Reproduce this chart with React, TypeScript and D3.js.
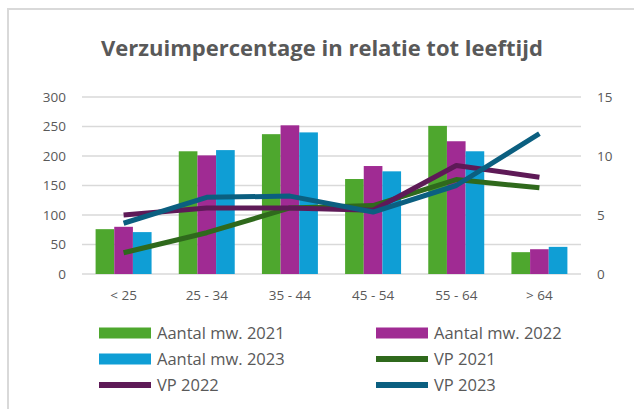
import React, { useEffect, useRef } from 'react';
import * as d3 from 'd3';

const categories = ['< 25', '25 - 34', '35 - 44', '45 - 54', '55 - 64', '> 64'];
const aantal2021 = [76, 208, 237, 161, 251, 37];
const aantal2022 = [80, 201, 252, 183, 225, 42];
const aantal2023 = [71, 210, 240, 174, 208, 46];
const vp2021 = [1.8, 3.5, 5.6, 5.8, 8.0, 7.3];
const vp2022 = [5.0, 5.6, 5.6, 5.4, 9.2, 8.2];
const vp2023 = [4.3, 6.5, 6.6, 5.25, 7.5, 11.9];
const leftTicks = [0, 50, 100, 150, 200, 250, 300];
const rightTicks = [0, 5, 10, 15];

const FONT = "'Open Sans', sans-serif";
const TEXT = '#595959';

const App = () => {
  const svgRef = useRef<SVGSVGElement>(null);

  useEffect(() => {
    const svg = d3.select(svgRef.current);
    svg.selectAll('*').remove();
    const width = 634;
    const height = 409;
    const left = 82;
    const right = 581;
    const top = 97;
    const bottom = 274;

    // chart frame
    svg.append('rect')
      .attr('x', 8).attr('y', 9)
      .attr('width', width).attr('height', height)
      .attr('fill', '#fff')
      .attr('stroke', '#d9d9d9')
      .attr('stroke-width', 2);

    svg.append('text')
      .attr('x', 322).attr('y', 56)
      .attr('text-anchor', 'middle')
      .style('font-family', FONT)
      .style('font-weight', 'bold')
      .style('font-size', '22px')
      .style('fill', TEXT)
      .text('Verzuimpercentage in relatie tot leeftijd');

    const x = d3.scaleBand().domain(categories).range([left, right])
      .paddingInner(0.327).paddingOuter(0.1635);
    const yL = d3.scaleLinear().domain([0, 300]).range([bottom, top]);
    const yR = d3.scaleLinear().domain([0, 15]).range([bottom, top]);

    // gridlines
    svg.selectAll('.grid').data(leftTicks).join('line')
      .attr('x1', left).attr('x2', right)
      .attr('y1', (d) => yL(d)).attr('y2', (d) => yL(d))
      .attr('stroke', '#d9d9d9')
      .attr('stroke-width', 1.5);

    svg.selectAll('.ltick').data(leftTicks).join('text')
      .attr('x', 66).attr('y', (d) => yL(d))
      .attr('dy', '0.35em')
      .attr('text-anchor', 'end')
      .style('font-family', FONT).style('font-size', '13.5px').style('fill', TEXT)
      .text((d) => d);

    svg.selectAll('.rtick').data(rightTicks).join('text')
      .attr('x', 597).attr('y', (d) => yR(d))
      .attr('dy', '0.35em')
      .style('font-family', FONT).style('font-size', '13.5px').style('fill', TEXT)
      .text((d) => d);

    svg.selectAll('.xlabel').data(categories).join('text')
      .attr('x', (d) => x(d)! + x.bandwidth() / 2).attr('y', 295)
      .attr('dy', '0.35em')
      .attr('text-anchor', 'middle')
      .style('font-family', FONT).style('font-size', '13.5px').style('fill', TEXT)
      .text((d) => d);

    // bars
    const barSeries = [
      { name: 'Aantal mw. 2021', values: aantal2021, color: '#4ea72e' },
      { name: 'Aantal mw. 2022', values: aantal2022, color: '#a02b93' },
      { name: 'Aantal mw. 2023', values: aantal2023, color: '#0f9ed5' },
    ];
    const xs = d3.scaleBand().domain(barSeries.map((s) => s.name)).range([0, x.bandwidth()]);
    barSeries.forEach((s) => {
      svg.append('g').selectAll('rect').data(s.values).join('rect')
        .attr('x', (_, i) => x(categories[i])! + xs(s.name)!)
        .attr('y', (d) => yL(d))
        .attr('width', xs.bandwidth())
        .attr('height', (d) => bottom - yL(d))
        .attr('fill', s.color);
    });

    // lines
    const lineSeries = [
      { name: 'VP 2021', values: vp2021, color: '#2f691c' },
      { name: 'VP 2022', values: vp2022, color: '#5e1a57' },
      { name: 'VP 2023', values: vp2023, color: '#0b5f80' },
    ];
    const line = d3.line<number>()
      .x((_, i) => x(categories[i])! + x.bandwidth() / 2)
      .y((d) => yR(d));
    lineSeries.forEach((s) => {
      svg.append('path')
        .attr('d', line(s.values))
        .attr('fill', 'none')
        .attr('stroke', s.color)
        .attr('stroke-width', 5)
        .attr('stroke-linejoin', 'round');
    });

    // legend
    const legend = [
      { ...barSeries[0], type: 'bar' },
      { ...barSeries[1], type: 'bar' },
      { ...barSeries[2], type: 'bar' },
      { ...lineSeries[0], type: 'line' },
      { ...lineSeries[1], type: 'line' },
      { ...lineSeries[2], type: 'line' },
    ];
    const rows = [333, 359, 385];
    const cols = [99, 376];
    const lg = svg.selectAll('.legend').data(legend).join('g')
      .attr('transform', (_, i) => `translate(${cols[i % 2]},${rows[Math.floor(i / 2)]})`);
    lg.append('rect')
      .attr('x', 0)
      .attr('y', (d) => (d.type === 'bar' ? -5.5 : -3))
      .attr('width', 52)
      .attr('height', (d) => (d.type === 'bar' ? 11 : 6))
      .attr('fill', (d) => d.color);
    lg.append('text')
      .attr('x', 58).attr('dy', '0.35em')
      .style('font-family', FONT).style('font-size', '16.5px').style('fill', TEXT)
      .text((d) => d.name);
  }, []);

  return (
    <svg ref={svgRef} width={634} height={409}
      style={{ position: 'absolute', left: 0, top: 0 }} />
  );
};

export default App;
